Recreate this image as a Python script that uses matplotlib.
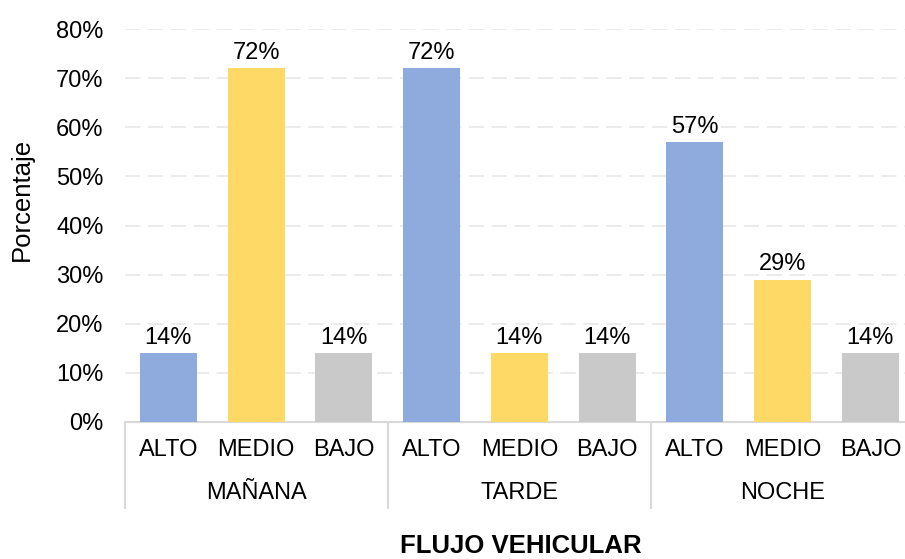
import matplotlib
matplotlib.use("Agg")
import matplotlib.pyplot as plt
from matplotlib.lines import Line2D
from matplotlib.transforms import blended_transform_factory

plt.rcParams['font.family'] = ['Liberation Sans', 'DejaVu Sans']

periods = ['MAÑANA', 'TARDE', 'NOCHE']
levels = ['ALTO', 'MEDIO', 'BAJO']
values = [14, 72, 14, 72, 14, 14, 57, 29, 14]
bar_colors = ['#8FAADC', '#FFD966', '#C9C9C9']
yticks = [0, 10, 20, 30, 40, 50, 60, 70, 80]

W, H = 905, 559
fig = plt.figure(figsize=(W / 100, H / 100), dpi=100)
ax = fig.add_axes([124.5 / W, 137 / H, 789.75 / W, 393 / H])

x = list(range(len(values)))
colors = [bar_colors[i % 3] for i in x]
bars = ax.bar(x, [v / 100 for v in values], width=0.65, color=colors, zorder=3)

for b, v in zip(bars, values):
    ax.annotate(f'{v}%', (b.get_x() + b.get_width() / 2, b.get_height()),
                xytext=(0, 3), textcoords='offset points',
                ha='center', va='bottom', fontsize=17, color='#000000')

ax.set_xlim(-0.5, 8.5)
ax.set_ylim(0, 0.8)
ax.set_yticks([t / 100 for t in yticks])
ax.set_yticklabels([f'{t}%' for t in yticks])
ax.tick_params(axis='y', length=0, pad=15, labelsize=17)
ax.set_xticks([])

for y in yticks[1:]:
    ax.axhline(y / 100, color='#E6E6E6', lw=1.1, ls=(0, (10, 5)), zorder=1)

for s in ['top', 'right', 'left']:
    ax.spines[s].set_visible(False)
ax.spines['bottom'].set_color('#D9D9D9')
ax.spines['bottom'].set_linewidth(1.5)

tr = blended_transform_factory(ax.transData, fig.transFigure)
for i in x:
    ax.text(i, 1 - 450 / H, levels[i % 3], transform=tr, ha='center', va='center',
            fontsize=17)
for g, p in enumerate(periods):
    ax.text(g * 3 + 1, 1 - 493 / H, p, transform=tr, ha='center', va='center',
            fontsize=17)
for xd in [-0.5, 2.5, 5.5, 8.5]:
    ax.add_line(Line2D([xd, xd], [1 - 422 / H, 1 - 508 / H], transform=tr,
                       color='#D9D9D9', lw=1.5, clip_on=False))

fig.text(521 / W, 1 - 546 / H, 'FLUJO VEHICULAR', ha='center', va='center',
         fontsize=18.5, fontweight='bold')
fig.text(22 / W, 1 - 199 / H, 'Porcentaje', ha='center', va='center',
         rotation=90, fontsize=18.5)

fig.savefig('out.png', dpi=100)
